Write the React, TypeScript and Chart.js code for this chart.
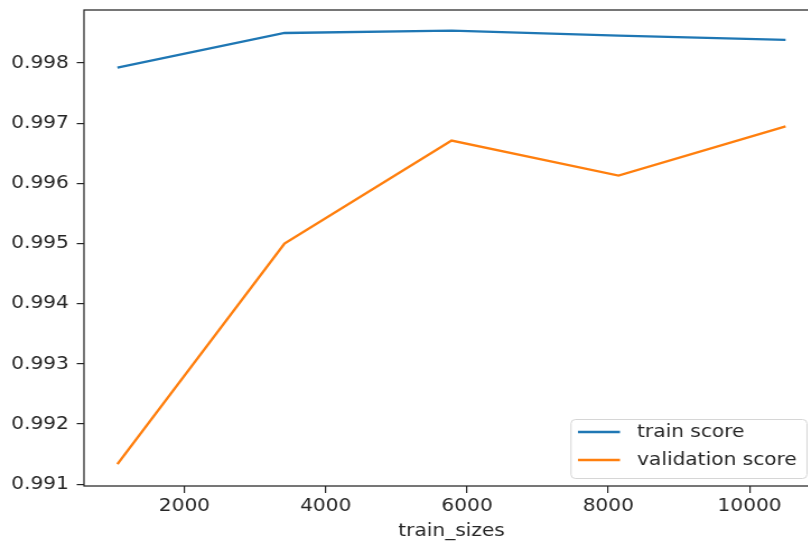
import { useEffect, useRef } from "react";
import { Chart, registerables } from "chart.js";

Chart.register(...registerables);

const trainSizes = [1051, 3416, 5781, 8145, 10510];
const trainScore = [0.997922, 0.998499, 0.998537, 0.998454, 0.998383];
const validationScore = [0.991333, 0.995, 0.996712, 0.996128, 0.996945];
const xTickValues = [2000, 4000, 6000, 8000, 10000];
const yTickValues = [0.991, 0.992, 0.993, 0.994, 0.995, 0.996, 0.997, 0.998];
const seriesLabels = ["train score", "validation score"];
const seriesColors = ["#1f77b4", "#ff7f0e"];

const FONT = "'DejaVu Sans', sans-serif";
const INK = "#262626";

// The reference is horizontally stretched; draw on a narrower canvas and widen it with CSS.
const CSS_W = 830;
const CSS_H = 542;
const INNER_W = 741;
const SX = CSS_W / INNER_W;

const spinePlugin = {
  id: "spines",
  afterDraw(chart: any) {
    const { ctx, chartArea } = chart;
    ctx.save();
    ctx.strokeStyle = INK;
    ctx.lineWidth = 1.25;
    ctx.strokeRect(
      chartArea.left,
      chartArea.top,
      chartArea.right - chartArea.left,
      chartArea.bottom - chartArea.top
    );
    ctx.restore();
  },
};

const legendPlugin = {
  id: "mplLegend",
  afterDraw(chart: any) {
    const { ctx } = chart;
    const x0 = 571 / SX;
    const y0 = 419;
    const w = 236 / SX;
    const h = 59;
    ctx.save();
    ctx.beginPath();
    ctx.roundRect(x0, y0 + 0.5, w, h, 4);
    ctx.fillStyle = "rgba(255,255,255,0.8)";
    ctx.fill();
    ctx.strokeStyle = "#d6d6d6";
    ctx.lineWidth = 1;
    ctx.stroke();
    chart.data.datasets.forEach((ds: any, i: number) => {
      const cy = y0 + 13 + i * 28;
      ctx.beginPath();
      ctx.moveTo(x0 + 7 / SX, cy);
      ctx.lineTo(x0 + 49 / SX, cy);
      ctx.strokeStyle = ds.borderColor;
      ctx.lineWidth = 2.4;
      ctx.stroke();
      ctx.fillStyle = INK;
      ctx.font = `18px ${FONT}`;
      ctx.textBaseline = "middle";
      ctx.textAlign = "left";
      ctx.fillText(ds.label, x0 + 66 / SX, cy);
    });
    ctx.restore();
  },
};

export default function App() {
  const ref = useRef<HTMLCanvasElement | null>(null);

  useEffect(() => {
    if (!ref.current) return;
    const makeData = (ys: number[]) => trainSizes.map((x, i) => ({ x, y: ys[i] }));
    const chart = new Chart(ref.current, {
      type: "line",
      data: {
        datasets: [
          {
            label: seriesLabels[0],
            data: makeData(trainScore),
            borderColor: seriesColors[0],
            backgroundColor: seriesColors[0],
            borderWidth: 2.4,
            pointRadius: 0,
            tension: 0,
          },
          {
            label: seriesLabels[1],
            data: makeData(validationScore),
            borderColor: seriesColors[1],
            backgroundColor: seriesColors[1],
            borderWidth: 2.4,
            pointRadius: 0,
            tension: 0,
          },
        ],
      },
      options: {
        animation: false,
        responsive: false,
        devicePixelRatio: 1,
        layout: { padding: { top: 10, right: INNER_W - 819 / SX, left: 0, bottom: 0 } },
        plugins: {
          legend: { display: false },
          tooltip: { enabled: false },
        },
        scales: {
          x: {
            type: "linear",
            min: 578,
            max: 10983,
            afterBuildTicks: (s: any) => {
              s.ticks = xTickValues.map((v) => ({ value: v }));
            },
            afterFit: (s: any) => {
              s.height = 56;
              s.paddingLeft = 0;
              s.paddingRight = 0;
            },
            border: { display: false },
            grid: {
              drawOnChartArea: false,
              drawTicks: true,
              tickLength: 7,
              color: INK,
              lineWidth: 1.2,
            },
            ticks: {
              color: INK,
              font: { family: FONT, size: 18 },
              padding: 3,
              maxRotation: 0,
              autoSkip: false,
              callback: (v: any) => String(v),
            },
            title: {
              display: true,
              text: "train_sizes",
              color: INK,
              font: { family: FONT, size: 18 },
              padding: { top: 0, bottom: 0 },
            },
          },
          y: {
            type: "linear",
            min: 0.99097,
            max: 0.99888,
            afterBuildTicks: (s: any) => {
              s.ticks = yTickValues.map((v) => ({ value: v }));
            },
            afterFit: (s: any) => {
              s.width = 84 / SX;
              s.paddingTop = 0;
              s.paddingBottom = 0;
            },
            border: { display: false },
            grid: {
              drawOnChartArea: false,
              drawTicks: true,
              tickLength: 6.5,
              color: INK,
              lineWidth: 1.2,
            },
            ticks: {
              color: INK,
              font: { family: FONT, size: 18 },
              padding: 7,
              autoSkip: false,
              callback: (v: any) => Number(v).toFixed(3),
            },
          },
        },
      },
      plugins: [spinePlugin, legendPlugin],
    });
    return () => chart.destroy();
  }, []);

  return (
    <div
      style={{
        position: "fixed",
        left: 0,
        top: 0,
        width: 808,
        height: 542,
        overflow: "hidden",
        background: "#fff",
      }}
    >
      <canvas
        ref={ref}
        width={INNER_W}
        height={CSS_H}
        style={{ display: "block", width: `${CSS_W}px`, height: `${CSS_H}px` }}
      />
    </div>
  );
}
